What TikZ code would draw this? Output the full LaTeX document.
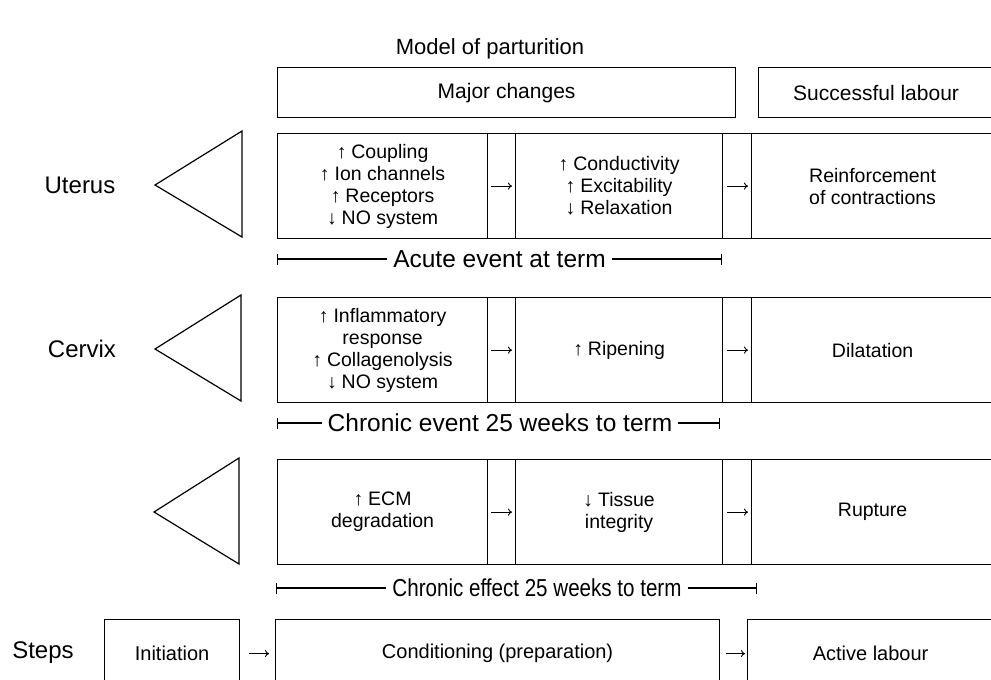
\documentclass[tikz,border=0pt]{standalone}
\usepackage{fontspec}
\setmainfont{Liberation Sans}
\usepackage{graphicx}
\usetikzlibrary{arrows.meta}
\newcommand{\up}{↑\hspace{0.25em}}
\newcommand{\dn}{↓\hspace{0.25em}}
\tikzset{
  cell/.style={draw, line width=1.2pt, anchor=north west, inner sep=0pt, align=center,
    minimum height=105pt, font=\fontsize{19.5}{22}\selectfont},
  head/.style={draw, line width=1.2pt, anchor=north west, inner sep=0pt, align=center,
    minimum height=50pt, font=\fontsize{21}{24}\selectfont},
  stepcell/.style={draw, line width=1.2pt, anchor=north west, inner sep=0pt, align=center,
    minimum height=68pt, font=\fontsize{20}{24}\selectfont},
  lab/.style={inner sep=0pt, font=\fontsize{24}{28}\selectfont},
  barlab/.style={fill=white, inner xsep=6pt, inner ysep=1pt, font=\fontsize{24.5}{28}\selectfont},
  spanL/.style={line width=1.2pt, {Bar[width=11pt,line width=1.2pt]}-},
  spanR/.style={line width=1.2pt, -{Bar[width=11pt,line width=1.2pt]}},
  arr/.style={line width=0.9pt, -{To[length=4pt,width=7pt]}},
  tri/.style={line width=1.2pt, line join=miter},
}
\begin{document}
\begin{tikzpicture}[x=1pt,y=-1pt]
\useasboundingbox (0,0) rectangle (991,680);
\clip (0,0) rectangle (991,680);

% title
\node[inner sep=0pt, font=\fontsize{22}{26}\selectfont] (title) at (490,49) {Model of parturition};

% header boxes
\node[head, minimum width=458pt] (major) at (277,67) {Major changes};
\node[head, minimum width=235pt] (succ) at (758,67) {Successful labour};

% ---------- Uterus row ----------
\node[lab] (uterus) at (80,185) {Uterus};
\coordinate (ut1) at (155,185);
\coordinate (ut2) at (242,131);
\coordinate (ut3) at (242,237);
\draw[tri] (ut1) -- (ut2) -- (ut3) -- cycle;

\node[cell, minimum width=210pt] (U1) at (277,133) {\up Coupling\\\up Ion channels\\\up Receptors\\\dn NO system};
\node[cell, minimum width=28pt] (Ug1) at (487,133) {};
\node[cell, minimum width=207pt] (U2) at (515,133) {\up Conductivity\\\up Excitability\\\dn Relaxation};
\node[cell, minimum width=29pt] (Ug2) at (722,133) {};
\node[cell, minimum width=242pt] (U3) at (751,133) {Reinforcement\\of contractions};
\draw[arr] ([xshift=3pt]U1.east) -- ([xshift=-3pt]U2.west);
\draw[arr] ([xshift=4pt]U2.east) -- ([xshift=-3pt]U3.west);

% acute bar
\coordinate (acS) at (277,259);
\coordinate (acE) at (722,259);
\node[barlab] (acute) at (499.5,259) {Acute event at term};
\draw[spanL] (acS) -- (acute.west);
\draw[spanR] (acute.east) -- (acE);

% ---------- Cervix row ----------
\node[lab] (cervix) at (82,349) {Cervix};
\coordinate (cv1) at (155,349);
\coordinate (cv2) at (241,295);
\coordinate (cv3) at (241,401);
\draw[tri] (cv1) -- (cv2) -- (cv3) -- cycle;

\node[cell, minimum width=210pt] (C1) at (277,297) {\up Inflammatory\\response\\\up Collagenolysis\\\dn NO system};
\node[cell, minimum width=28pt] (Cg1) at (487,297) {};
\node[cell, minimum width=207pt] (C2) at (515,297) {\up Ripening};
\node[cell, minimum width=29pt] (Cg2) at (722,297) {};
\node[cell, minimum width=242pt] (C3) at (751,297) {Dilatation};
\draw[arr] ([xshift=3pt]C1.east) -- ([xshift=-3pt]C2.west);
\draw[arr] ([xshift=4pt]C2.east) -- ([xshift=-3pt]C3.west);

% chronic event bar
\coordinate (ceS) at (277,423);
\coordinate (ceE) at (720,423);
\node[barlab] (cevent) at (500,423) {Chronic event 25 weeks to term};
\draw[spanL] (ceS) -- (cevent.west);
\draw[spanR] (cevent.east) -- (ceE);

% ---------- Membranes row ----------
\coordinate (mb1) at (154,512);
\coordinate (mb2) at (239,458);
\coordinate (mb3) at (239,564);
\draw[tri] (mb1) -- (mb2) -- (mb3) -- cycle;

\node[cell, minimum width=210pt] (M1) at (277,459) {\up ECM\\degradation};
\node[cell, minimum width=28pt] (Mg1) at (487,459) {};
\node[cell, minimum width=207pt] (M2) at (515,459) {\dn Tissue\\integrity};
\node[cell, minimum width=29pt] (Mg2) at (722,459) {};
\node[cell, minimum width=242pt] (M3) at (751,459) {Rupture};
\draw[arr] ([xshift=3pt]M1.east) -- ([xshift=-3pt]M2.west);
\draw[arr] ([xshift=4pt]M2.east) -- ([xshift=-3pt]M3.west);

% chronic effect bar
\coordinate (cfS) at (276,588);
\coordinate (cfE) at (757,588);
\node[barlab] (ceffect) at (537,588) {\scalebox{0.84}[1]{Chronic effect 25 weeks to term}};
\draw[spanL] (cfS) -- (ceffect.west);
\draw[spanR] (ceffect.east) -- (cfE);

% ---------- Steps row ----------
\node[lab] (steps) at (43,653) {Steps};
\node[stepcell, minimum width=135pt] (ini) at (104,619) {Initiation};
\node[stepcell, minimum width=444pt] (cond) at (275,619) {Conditioning (preparation)};
\node[stepcell, minimum width=246pt] (act) at (747,619) {Active labour};
\draw[arr] ([xshift=9pt]ini.east) -- ([xshift=-6pt]cond.west);
\draw[arr] ([xshift=6pt]cond.east) -- ([xshift=-2pt]act.west);
\end{tikzpicture}
\end{document}
